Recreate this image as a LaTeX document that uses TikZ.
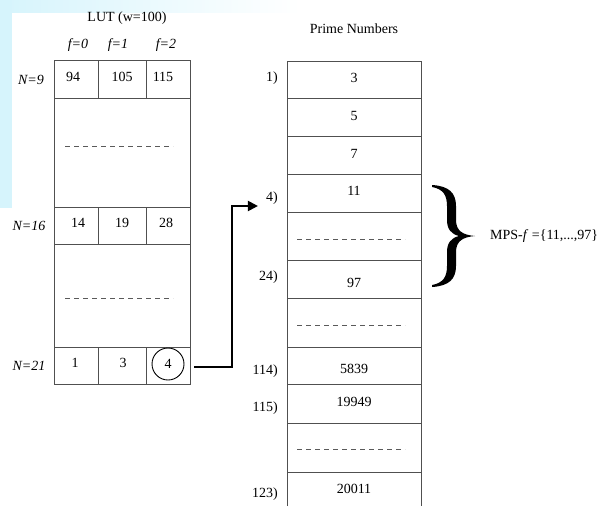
\documentclass[tikz,border=0pt]{standalone}
\usepackage{fontspec}
\setmainfont{Liberation Serif}
\usetikzlibrary{arrows.meta}
\definecolor{bgc}{RGB}{214,244,252}
\definecolor{linec}{RGB}{80,80,80}
\definecolor{dashc}{RGB}{90,90,90}
\tikzset{
  lbl/.style={inner sep=0pt,font=\fontsize{14}{16}\selectfont},
  ilbl/.style={inner sep=0pt,font=\fontsize{14}{16}\selectfont\itshape},
  grid/.style={draw=linec,line width=0.9pt},
  dsh/.style={draw=dashc,line width=0.8pt,dash pattern=on 5pt off 4pt},
  arr/.style={draw=black,line width=2pt,-{Triangle[length=10pt,width=10pt]}}
}
\begin{document}
\begin{tikzpicture}[x=1pt,y=-1pt]
\useasboundingbox (0,0) rectangle (610,506);
\fill[white] (0,0) rectangle (610,506);
% background tint
\shade[left color=bgc,right color=white] (0,0) rectangle (300,12);
\fill[bgc] (0,0) rectangle (12,208);

% ---------- LUT table ----------
\draw[grid] (54,60) rectangle (190,384);
\draw[grid] (54,98) -- (190,98);
\draw[grid] (54,207) -- (190,207);
\draw[grid] (54,244) -- (190,244);
\draw[grid] (54,347) -- (190,347);
\foreach \x in {98,146}{
  \draw[grid] (\x,60) -- (\x,98);
  \draw[grid] (\x,207) -- (\x,244);
  \draw[grid] (\x,347) -- (\x,384);
}
\draw[dsh] (65,146) -- (173,146);
\draw[dsh] (65,298) -- (173,298);

\node[lbl] (luttitle) at (127,18) {LUT (w=100)};
\node[ilbl] (f0) at (78,45) {f=0};
\node[ilbl] (f1) at (118,45) {f=1};
\node[ilbl] (f2) at (166,45) {f=2};

\node[ilbl] (n9) at (31,80) {N=9};
\node[ilbl] (n16) at (29,226) {N=16};
\node[ilbl] (n21) at (29,366) {N=21};

\node[lbl] (v94) at (73,77) {94};
\node[lbl] (v105) at (122,77) {105};
\node[lbl] (v115) at (163,77) {115};
\node[lbl] (v14) at (78,223) {14};
\node[lbl] (v19) at (122,223) {19};
\node[lbl] (v28) at (166,223) {28};
\node[lbl] (v1) at (75,363) {1};
\node[lbl] (v3) at (123,363) {3};
\node[lbl,draw=black,line width=0.9pt,circle,minimum size=32pt] (c4) at (168,364) {4};

% ---------- Prime table ----------
\draw[grid] (287,506) -- (287,61) -- (421,61) -- (421,506);
\foreach \y in {98,136,174,212,260,298,347,384,423,472}{
  \draw[grid] (287,\y) -- (421,\y);
}
\draw[dsh] (297,239) -- (405,239);
\draw[dsh] (297,325) -- (405,325);
\draw[dsh] (297,449) -- (405,449);

\node[lbl] (ptitle) at (354,29) {Prime Numbers};
\node[lbl] (p3) at (354,78) {3};
\node[lbl] (p5) at (354,116) {5};
\node[lbl] (p7) at (354,154) {7};
\node[lbl] (p11) at (354,191) {11};
\node[lbl] (p97) at (354,283) {97};
\node[lbl] (p5839) at (354,369) {5839};
\node[lbl] (p19949) at (354,402) {19949};
\node[lbl] (p20011) at (354,489) {20011};

\node[lbl,anchor=east] (i1) at (278,78) {1)};
\node[lbl,anchor=east] (i4) at (278,198) {4)};
\node[lbl,anchor=east] (i24) at (278,277) {24)};
\node[lbl,anchor=east] (i114) at (278,371) {114)};
\node[lbl,anchor=east] (i115) at (278,408) {115)};
\node[lbl,anchor=east] (i123) at (278,494) {123)};

% ---------- arrow ----------
\coordinate (astart) at ([xshift=10pt,yshift=-3pt]c4.east);
\coordinate (aend) at ([xshift=-8pt,yshift=-8pt]i4.west);
\draw[arr] (astart) -- ++(38,0) |- (aend);

% ---------- brace ----------
\fill[black] (432,185) .. controls (449,186) and (456,193) .. (456,206)
  -- (456,220) .. controls (456,231) and (463,235) .. (475,236)
  .. controls (463,237) and (456,241) .. (456,252)
  -- (456,266) .. controls (456,279) and (449,286) .. (432,287)
  -- (432,285) .. controls (443,283) and (447,277) .. (447,266)
  -- (447,252) .. controls (447,243) and (451,238) .. (459,236)
  .. controls (451,234) and (447,229) .. (447,220)
  -- (447,206) .. controls (447,195) and (443,189) .. (432,187) -- cycle;
\coordinate (bracetip) at (475,236);
\node[lbl,anchor=west] (mps) at ([xshift=15pt]bracetip) {MPS-\textit{f} =\{11,...,97\}};
\end{tikzpicture}
\end{document}
